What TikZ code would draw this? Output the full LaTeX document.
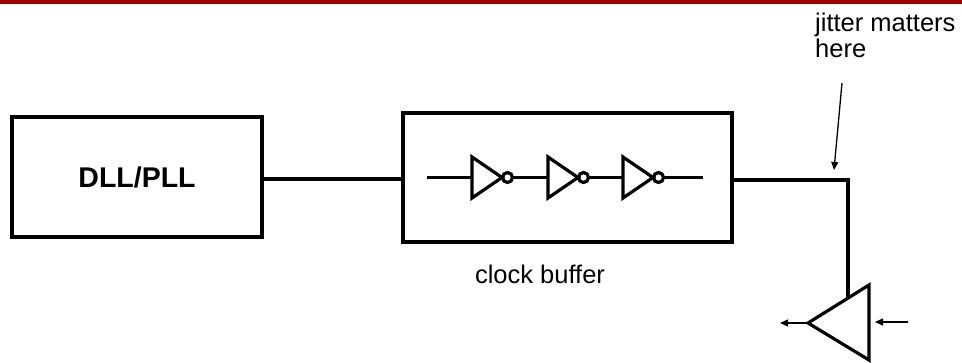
\documentclass[tikz,border=0pt]{standalone}
\usepackage{fontspec}
\setmainfont{Liberation Sans}
\usetikzlibrary{arrows.meta}
\definecolor{barred}{RGB}{160,0,0}
\tikzset{
  blockbox/.style={draw=black, line width=3.2pt, inner sep=0pt},
  wire/.style={line width=3.5pt},
  thickwire/.style={line width=4.5pt},
  gate/.style={line width=3.2pt, line join=miter},
  thinarrow/.style={line width=1.3pt, -{Triangle[length=8pt,width=7pt]}},
  lbl/.style={inner sep=0pt, font=\fontsize{25.5}{25.5}\selectfont}
}
\newcommand{\inverter}[2]{%
  \coordinate (#1in) at (#2,177.5);
  \coordinate (#1tip) at (#2+30,177.5);
  \coordinate (#1out) at (#2+41,177.5);
  \draw[gate] (#2,157) -- (#2,198) -- (#1tip) -- cycle;
  \draw[gate] (#2+35.5,177.5) circle (5pt);
}
\begin{document}
\begin{tikzpicture}[x=1pt,y=-1pt]
\useasboundingbox (0,0) rectangle (962,362);
\fill[barred] (0,0) rectangle (962,4);
% blocks
\node[blockbox, minimum width=250pt, minimum height=120pt, font=\bfseries\fontsize{28.5}{30}\selectfont] (dll) at (137,177) {DLL/PLL};
\node[blockbox, minimum width=329pt, minimum height=129pt] (buf) at (567.5,177.5) {};
\node[lbl, anchor=base] (buflbl) at (540,283) {clock buffer};
% inverters
\inverter{ia}{472}
\inverter{ib}{548}
\inverter{ic}{623}
\coordinate (bin) at (427,177.5);
\coordinate (bout) at (703,177.5);
\draw[wire] (bin) -- (iain);
\draw[wire] (iaout) -- (ibin);
\draw[wire] (ibout) -- (icin);
\draw[wire] (icout) -- (bout);
% wires
\draw[wire] (dll.east |- 0,179) -- (buf.west |- 0,179);
\coordinate (corner) at (848,180);
\coordinate (atop) at (848,298);
\draw[thickwire, line join=miter] (buf.east |- 0,180) -- (corner) -- (atop);
% amplifier
\coordinate (aA) at (869,285);
\coordinate (aB) at (869,360);
\coordinate (aT) at (808,323);
\draw[gate] (aA) -- (aT) -- (aB) -- cycle;
\coordinate (outend) at (780,323);
\coordinate (instart) at (908,322);
\coordinate (inend) at (875,322);
\draw[thinarrow] (aT) -- (outend);
\draw[thinarrow] (instart) -- (inend);
% annotation
\node[lbl, anchor=north west, align=left] (jit) at (815,13) {jitter matters\\here};
\coordinate (js) at (842,83);
\coordinate (je) at (834,170);
\draw[thinarrow] (js) -- (je);
\end{tikzpicture}
\end{document}
